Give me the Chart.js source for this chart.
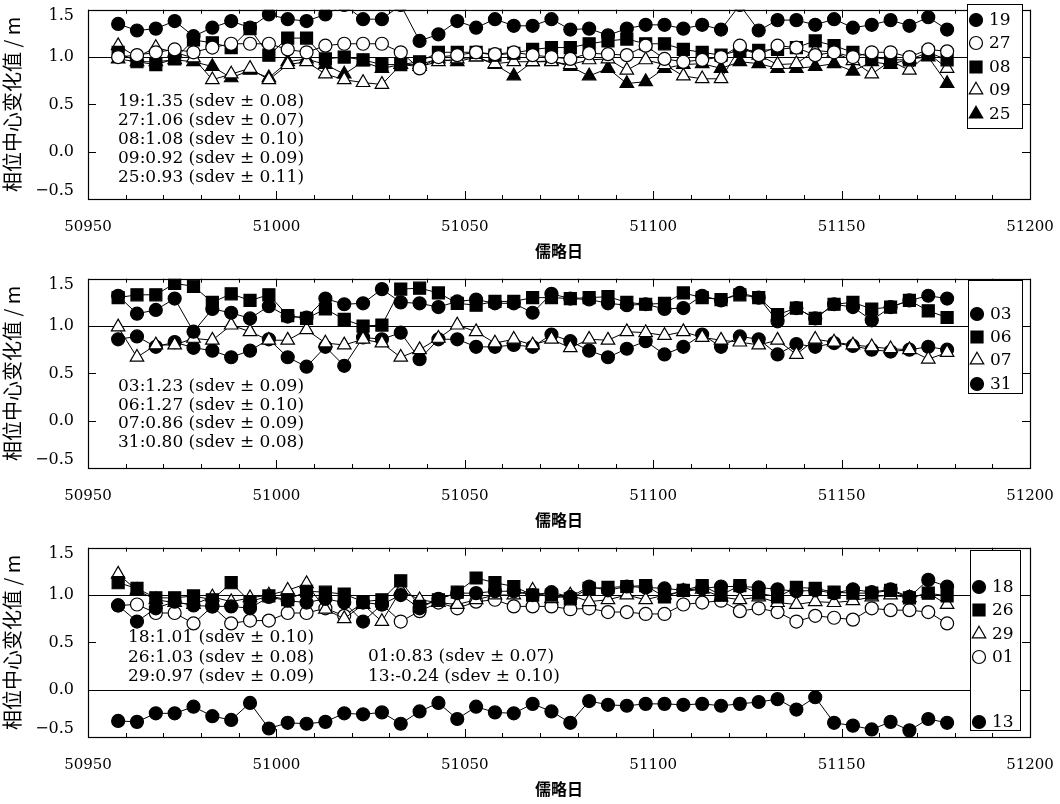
<!DOCTYPE html>
<html><head><meta charset="utf-8">
<script src="https://cdn.jsdelivr.net/npm/chart.js@4/dist/chart.umd.min.js"></script>
<style>
html,body{margin:0;padding:0;background:#fff;overflow:hidden;}
#wrap{position:relative;width:1060px;height:804px;overflow:hidden;}
.pn{position:absolute;left:0;width:1060px;height:269px;}
</style></head><body>
<div id="wrap">
<div class="pn" style="top:0px"><canvas id="c1" width="1060" height="269"></canvas></div>
<div class="pn" style="top:269px"><canvas id="c2" width="1060" height="269"></canvas></div>
<div class="pn" style="top:538px"><canvas id="c3" width="1060" height="269"></canvas></div>
</div>
<script>
// ---- data ----
const days = [50958,50963,50968,50973,50978,50983,50988,50993,50998,51003,51008,51013,51018,51023,51028,51033,51038,51043,51048,51053,51058,51063,51068,51073,51078,51083,51088,51093,51098,51103,51108,51113,51118,51123,51128,51133,51138,51143,51148,51153,51158,51163,51168,51173,51178];
const xTickLabels = ['50950','51000','51050','51100','51150','51200'];
const yTickLabels = ['−0.5','0.0','0.5','1.0','1.5'];
const xTitle = '儒略日';
const yTitle = '相位中心变化值 / m';

// panel 1
const s19 = [1.35,1.28,1.30,1.38,1.22,1.31,1.38,1.31,1.45,1.40,1.38,1.45,1.55,1.40,1.40,1.55,1.17,1.24,1.38,1.31,1.40,1.33,1.33,1.40,1.29,1.30,1.23,1.30,1.34,1.34,1.30,1.34,1.29,1.55,1.28,1.39,1.39,1.34,1.40,1.31,1.34,1.39,1.33,1.42,1.29];
const s27 = [1.00,1.02,1.05,1.08,1.05,1.10,1.14,1.14,1.14,1.08,1.05,1.12,1.14,1.14,1.14,1.05,0.88,1.00,1.02,1.05,1.03,1.05,1.02,1.00,0.98,1.04,1.03,1.02,1.12,0.98,0.95,0.97,1.00,1.12,1.02,1.12,1.10,1.02,1.05,1.00,1.05,1.05,1.00,1.08,1.06];
const s08 = [1.05,0.95,0.92,0.98,1.18,1.15,1.10,1.30,1.02,1.20,1.20,0.98,1.00,0.97,0.92,0.92,0.95,1.05,1.05,1.05,1.02,1.04,1.08,1.10,1.10,1.14,1.17,1.19,1.14,1.14,1.08,1.05,1.02,1.07,1.07,1.08,1.10,1.17,1.12,1.05,1.00,0.97,0.97,1.05,0.97];
const s09 = [1.12,1.00,1.10,1.05,0.99,0.76,0.82,0.88,0.76,0.92,0.95,0.82,0.76,0.73,0.71,0.92,0.90,0.95,0.98,1.00,0.93,0.95,0.95,0.95,0.92,0.97,0.98,0.86,0.97,0.92,0.80,0.77,0.77,1.10,1.02,0.92,0.93,1.07,1.05,0.96,0.82,0.96,0.86,1.04,0.88];
const s25 = [0.98,0.95,0.95,0.97,0.95,0.90,0.78,0.86,0.78,0.95,0.98,0.92,0.82,0.95,0.88,0.92,0.92,0.98,0.95,1.00,0.92,0.80,0.95,0.96,0.90,0.80,0.88,0.72,0.74,0.88,0.92,0.93,0.88,0.95,0.93,0.88,0.88,0.90,0.93,0.85,0.95,0.92,0.98,1.00,0.72];
// panel 2
const s03 = [1.32,1.13,1.17,1.29,0.94,1.18,1.14,1.08,1.21,1.10,1.09,1.29,1.23,1.24,1.39,1.25,1.24,1.20,1.26,1.28,1.24,1.24,1.14,1.34,1.29,1.28,1.24,1.22,1.23,1.18,1.19,1.32,1.27,1.35,1.30,1.05,1.19,1.08,1.23,1.20,1.06,1.20,1.27,1.32,1.29];
const s06 = [1.30,1.33,1.33,1.45,1.42,1.25,1.34,1.27,1.33,1.11,1.08,1.18,1.07,1.00,1.01,1.39,1.40,1.35,1.24,1.22,1.26,1.26,1.30,1.30,1.29,1.30,1.31,1.25,1.23,1.24,1.35,1.30,1.28,1.33,1.30,1.12,1.19,1.08,1.23,1.25,1.18,1.20,1.27,1.16,1.09];
const s07 = [0.99,0.67,0.80,0.80,0.87,0.85,1.01,0.94,0.85,0.85,0.96,0.82,0.80,0.86,0.82,0.67,0.75,0.87,1.01,0.94,0.82,0.86,0.80,0.86,0.77,0.86,0.85,0.94,0.93,0.90,0.94,0.88,0.85,0.83,0.80,0.85,0.70,0.86,0.83,0.80,0.78,0.76,0.75,0.65,0.72];
const s31 = [0.86,0.89,0.78,0.83,0.77,0.74,0.67,0.74,0.86,0.67,0.57,0.78,0.58,0.88,0.86,0.93,0.65,0.86,0.86,0.78,0.78,0.80,0.78,0.91,0.84,0.74,0.67,0.76,0.84,0.70,0.78,0.91,0.78,0.89,0.86,0.70,0.81,0.78,0.82,0.79,0.75,0.73,0.75,0.78,0.75];
// panel 3
const s18 = [0.89,0.72,0.86,0.93,0.89,0.88,0.88,0.86,0.98,0.94,0.92,0.96,0.92,0.72,0.90,1.00,0.86,0.96,1.02,1.02,1.04,1.04,1.00,1.03,0.98,1.09,1.05,1.09,1.08,1.07,1.05,1.07,1.09,1.09,1.08,1.06,1.04,1.05,1.02,1.06,1.03,1.06,0.98,1.16,1.09];
const s26 = [1.13,1.07,0.97,0.97,0.99,0.95,1.13,0.93,0.99,0.95,1.04,1.03,1.01,0.93,0.95,1.15,0.88,0.95,1.03,1.18,1.13,1.09,1.00,1.00,0.96,1.07,1.08,1.09,1.10,0.98,1.05,1.10,1.00,1.10,1.02,0.98,1.08,1.07,1.03,1.02,1.02,1.05,0.97,1.02,0.99];
const s29 = [1.22,1.05,0.95,0.92,0.90,0.98,0.93,0.97,1.00,1.05,1.12,0.85,0.75,0.90,0.72,1.05,0.95,0.92,0.90,0.95,1.00,1.00,1.05,0.96,1.00,0.93,0.95,1.00,0.95,1.00,1.04,1.06,0.98,0.95,0.98,0.92,0.90,0.93,0.92,0.94,0.98,1.00,0.97,1.02,0.90];
const s01 = [0.89,0.90,0.81,0.81,0.70,0.88,0.70,0.73,0.73,0.81,0.81,0.86,0.78,0.92,0.90,0.72,0.83,0.92,0.86,0.93,0.95,0.88,0.88,0.88,0.85,0.86,0.82,0.82,0.80,0.80,0.90,0.92,0.94,0.83,0.86,0.82,0.72,0.78,0.76,0.74,0.86,0.84,0.84,0.82,0.70];
const s13 = [-0.33,-0.34,-0.25,-0.25,-0.18,-0.28,-0.32,-0.14,-0.41,-0.35,-0.36,-0.34,-0.25,-0.26,-0.24,-0.36,-0.23,-0.14,-0.31,-0.18,-0.24,-0.25,-0.15,-0.23,-0.35,-0.12,-0.16,-0.17,-0.15,-0.15,-0.16,-0.15,-0.17,-0.15,-0.13,-0.10,-0.21,-0.08,-0.35,-0.38,-0.42,-0.34,-0.43,-0.31,-0.35];

const notes1 = ['19:1.35 (sdev ± 0.08)','27:1.06 (sdev ± 0.07)','08:1.08 (sdev ± 0.10)','09:0.92 (sdev ± 0.09)','25:0.93 (sdev ± 0.11)'];
const notes2 = ['03:1.23 (sdev ± 0.09)','06:1.27 (sdev ± 0.10)','07:0.86 (sdev ± 0.09)','31:0.80 (sdev ± 0.08)'];
const notes3a = ['18:1.01 (sdev ± 0.10)','26:1.03 (sdev ± 0.08)','29:0.97 (sdev ± 0.09)'];
const notes3b = ['01:0.83 (sdev ± 0.07)','13:-0.24 (sdev ± 0.10)'];

// ---- styles ----
const SERIF = '"DejaVu Serif", "Liberation Serif", serif';
const CJK = '"Noto Sans CJK SC", sans-serif';
const MK = {
  fc: {pointStyle:'circle', radius:6.5, fill:'#000'},
  oc: {pointStyle:'circle', radius:6.5, fill:'#fff'},
  fs: {pointStyle:'rect', radius:8.5, fill:'#000'},
  ot: {pointStyle:'triangle', radius:7.8, fill:'#fff'},
  ft: {pointStyle:'triangle', radius:7.8, fill:'#000'}
};

function ds(label, vals, mk) {
  const m = MK[mk];
  return {
    label, data: days.map((d,i)=>({x:d, y:vals[i]})),
    showLine:true, borderColor:'#000', borderWidth:1,
    pointStyle:m.pointStyle, pointRadius:m.radius, pointHoverRadius:m.radius,
    pointBackgroundColor:m.fill, pointBorderColor:'#000', pointBorderWidth:1.2
  };
}

function drawMarker(ctx, mk, x, y) {
  const m = MK[mk];
  ctx.save();
  ctx.fillStyle = m.fill; ctx.strokeStyle = '#000'; ctx.lineWidth = 1.2;
  ctx.beginPath();
  if (m.pointStyle === 'circle') {
    ctx.arc(x, y, m.radius, 0, Math.PI*2);
  } else if (m.pointStyle === 'rect') {
    const s = m.radius*Math.SQRT1_2;
    ctx.rect(x-s, y-s, 2*s, 2*s);
  } else {
    const r = m.radius;
    ctx.moveTo(x, y - r);
    ctx.lineTo(x + r*Math.sin(Math.PI*2/3), y - r*Math.cos(Math.PI*2/3));
    ctx.lineTo(x + r*Math.sin(Math.PI*4/3), y - r*Math.cos(Math.PI*4/3));
    ctx.closePath();
  }
  ctx.fill(); ctx.stroke();
  ctx.restore();
}

const deco = {
  id: 'deco',
  beforeDraw(chart) {
    // nudge the end labels of the y axis inward, as in the original figure
    const y = chart.scales.y;
    try {
      const items = y.getLabelItems(chart.chartArea);
      if (items && items.length && !y._nudged) {
        const first = items[0].options.translation, last = items[items.length - 1].options.translation;
        first[1] -= 8; last[1] += 6;
        y._nudged = true;
      }
    } catch (e) {}
  },
  beforeDatasetsDraw(chart, args, o) {
    const {ctx, chartArea: a, scales: {x, y}} = chart;
    ctx.save();
    ctx.strokeStyle = '#000'; ctx.lineWidth = 1.2;
    for (const v of o.refLines) {
      const py = Math.round(y.getPixelForValue(v)) + 0.5;
      ctx.beginPath(); ctx.moveTo(a.left, py); ctx.lineTo(a.right, py); ctx.stroke();
    }
    ctx.restore();
  },
  afterDatasetsDraw(chart, args, o) {
    const {ctx, chartArea: a, scales: {x, y}} = chart;
    ctx.save();
    ctx.strokeStyle = '#000'; ctx.lineWidth = 1.2;
    ctx.strokeRect(Math.round(a.left)+0.5, Math.round(a.top)+0.5, Math.round(a.right-a.left), Math.round(a.bottom-a.top));
    ctx.lineWidth = 1;
    ctx.beginPath();
    for (let v = x.min; v <= x.max; v += 10) {
      const px = Math.round(x.getPixelForValue(v)) + 0.5;
      const L = (v % 50 === 0) ? 8 : 4;
      ctx.moveTo(px, a.bottom); ctx.lineTo(px, a.bottom - L);
      ctx.moveTo(px, a.top); ctx.lineTo(px, a.top + L);
    }
    for (const t of y.ticks) {
      const py = Math.round(y.getPixelForValue(t.value)) + 0.5;
      ctx.moveTo(a.left, py); ctx.lineTo(a.left + 8, py);
      ctx.moveTo(a.right, py); ctx.lineTo(a.right - 8, py);
    }
    ctx.stroke();
    const L = o.legend;
    ctx.fillStyle = '#fff';
    ctx.fillRect(L.x, L.y, L.w, L.h);
    ctx.strokeStyle = '#000'; ctx.lineWidth = 1;
    ctx.strokeRect(L.x + 0.5, L.y + 0.5, L.w, L.h);
    ctx.font = '17px ' + SERIF;
    ctx.textBaseline = 'middle'; ctx.textAlign = 'left';
    for (const e of L.items) {
      drawMarker(ctx, e.mk, L.x + 9, e.y);
      ctx.fillStyle = '#000';
      ctx.fillText(e.label, L.x + 22, e.y + 1);
    }
    ctx.fillStyle = '#000';
    ctx.font = '17px ' + SERIF;
    for (const n of o.notes) {
      n.lines.forEach((s, i) => ctx.fillText(s, n.x, n.y + i * n.dy));
    }
    ctx.restore();
  }
};

function makeChart(id, datasets, refLines, legend, notes) {
  return new Chart(document.getElementById(id), {
    type: 'scatter',
    data: { datasets },
    options: {
      responsive: false, animation: false,
      layout: { padding: { left: 0, right: 30, top: 4, bottom: 0 } },
      plugins: { legend: { display: false }, tooltip: { enabled: false },
        deco: { refLines, legend, notes } },
      scales: {
        x: {
          type: 'linear', min: 50950, max: 51200,
          afterFit: s => { s.height = 70; s.paddingLeft = 0; s.paddingRight = 0; },
          grid: { display: false, drawTicks: false },
          border: { display: false },
          ticks: { stepSize: 50, padding: 19, color: '#000', font: { family: SERIF, size: 15 },
            callback: (v) => { const i = xTickLabels.indexOf(String(v)); return i >= 0 ? xTickLabels[i] : ''; } },
          title: { display: true, text: xTitle, color: '#000', font: { family: CJK, size: 16, weight: 'bold' }, padding: { top: 0, bottom: 8 } }
        },
        y: {
          type: 'linear', min: -0.5, max: 1.5,
          afterFit: s => { s.width = 88; s.paddingTop = 0; s.paddingBottom = 0; },
          grid: { display: false, drawTicks: false },
          border: { display: false },
          ticks: { stepSize: 0.5, padding: 14, color: '#000', font: { family: SERIF, size: 16 },
            callback: (v) => yTickLabels[Math.round((v + 0.5) / 0.5)] },
          title: { display: true, text: yTitle, color: '#000', font: { family: CJK, size: 20 }, padding: { top: 0, bottom: 0 } }
        }
      }
    },
    plugins: [deco]
  });
}

makeChart('c1', [ds('19', s19, 'fc'), ds('27', s27, 'oc'), ds('08', s08, 'fs'), ds('09', s09, 'ot'), ds('25', s25, 'ft')], [1.0],
  { x: 967, y: 4, w: 55, h: 124, items: [
    {label:'19', mk:'fc', y:20}, {label:'27', mk:'oc', y:43}, {label:'08', mk:'fs', y:67}, {label:'09', mk:'ot', y:90}, {label:'25', mk:'ft', y:114}] },
  [{ x: 118, y: 102, dy: 19, lines: notes1 }]);

makeChart('c2', [ds('03', s03, 'fc'), ds('06', s06, 'fs'), ds('07', s07, 'ot'), ds('31', s31, 'fc')], [1.0],
  { x: 968, y: 11, w: 54, h: 113, items: [
    {label:'03', mk:'fc', y:45}, {label:'06', mk:'fs', y:68}, {label:'07', mk:'ot', y:91}, {label:'31', mk:'fc', y:115}] },
  [{ x: 118, y: 118, dy: 18.5, lines: notes2 }]);

makeChart('c3', [ds('18', s18, 'fc'), ds('26', s26, 'fs'), ds('29', s29, 'ot'), ds('01', s01, 'oc'), ds('13', s13, 'fc')], [1.0, 0.0],
  { x: 970, y: 12, w: 50, h: 180, items: [
    {label:'18', mk:'fc', y:49}, {label:'26', mk:'fs', y:72}, {label:'29', mk:'ot', y:96}, {label:'01', mk:'oc', y:119}, {label:'13', mk:'fc', y:184}] },
  [{ x: 128, y: 100, dy: 19.5, lines: notes3a }, { x: 368, y: 119, dy: 20, lines: notes3b }]);
</script>
</body></html>
